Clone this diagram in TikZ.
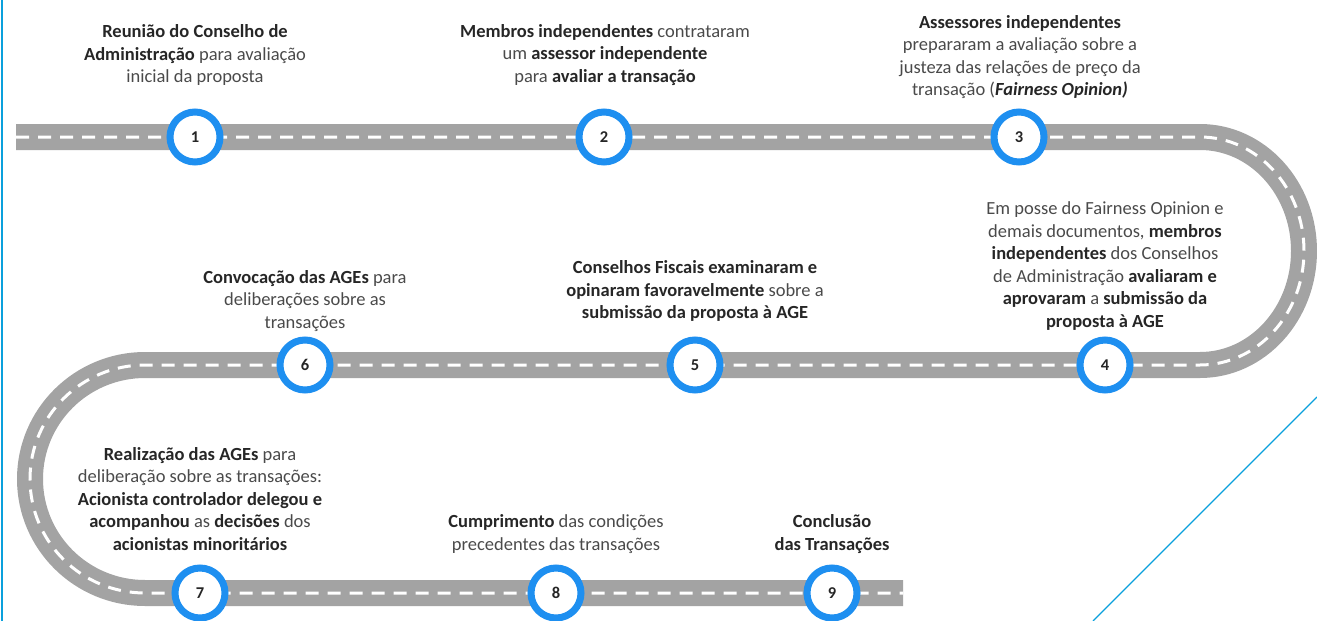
\documentclass[tikz,border=0pt]{standalone}
\usepackage{fontspec}
\setmainfont{Carlito}
\usetikzlibrary{positioning}
\definecolor{roadgray}{HTML}{A3A3A3}
\definecolor{ringblue}{HTML}{1E8FF0}
\definecolor{lineblue}{HTML}{0AA0DC}
\definecolor{txtdark}{HTML}{262626}
\definecolor{txtgray}{HTML}{4A4A4A}
\newcommand{\hl}[1]{\textbf{\color{txtdark}#1}}

\begin{document}
\begin{tikzpicture}[x=1pt,y=-1pt,
  stop/.style={circle,draw=ringblue,line width=7pt,fill=white,
    minimum size=50pt,inner sep=0pt,text=txtdark,
    font=\fontsize{16.5}{18}\selectfont\bfseries},
  txt/.style={align=center,text=txtgray,inner sep=0pt,
    font=\fontsize{18.5}{22.5}\selectfont},
  road/.style={line width=26pt,draw=roadgray},
  lane/.style={draw=white,line width=3pt,dash pattern=on 13pt off 9pt}]
 \useasboundingbox (0,0) rectangle (1317,621);

 % road
 \draw[road,postaction={lane}] (16,137) -- (1200,137)
   arc[start angle=-90,end angle=90,x radius=104,y radius=114] -- (145,365)
   arc[start angle=-90,end angle=-270,x radius=115,y radius=114] -- (903,593);

 % frame lines
 \draw[lineblue,line width=2pt] (1.5,0) -- (1.5,621);
 \draw[lineblue,line width=1.3pt] (1317,397) -- (1093,621);

 % stops
 \node[stop] (c1) at (195,137) {1};
 \node[stop] (c2) at (604,137) {2};
 \node[stop] (c3) at (1019,137) {3};
 \node[stop] (c4) at (1105,365) {4};
 \node[stop] (c5) at (695,365) {5};
 \node[stop] (c6) at (305,365) {6};
 \node[stop] (c7) at (200,593) {7};
 \node[stop] (c8) at (556,593) {8};
 \node[stop] (c9) at (832,593) {9};

 % labels
 \node[txt] (t1) at (195,55) {\hl{Reunião do Conselho de}\\
   \hl{Administração} para avaliação\\inicial da proposta};
 \node[txt] (t2) at (605,55) {\hl{Membros independentes} contrataram\\
   um \hl{assessor independente}\\para \hl{avaliar a transação}};
 \node[txt] (t3) at (1020,57) {\hl{Assessores independentes}\\
   prepararam a avaliação sobre a\\justeza das relações de preço da\\
   transação (\hl{\itshape Fairness Opinion)}};
 \node[txt] (t4) at (1105,266) {Em posse do Fairness Opinion e\\
   demais documentos, \hl{membros}\\\hl{independentes} dos Conselhos\\
   de Administração \hl{avaliaram e}\\\hl{aprovaram} a \hl{submissão da}\\
   \hl{proposta à AGE}};
 \node[txt] (t5) at (695,291) {\hl{Conselhos Fiscais examinaram e}\\
   \hl{opinaram favoravelmente} sobre a\\\hl{submissão da proposta à AGE}};
 \node[txt] (t6) at (305,301) {\hl{Convocação das AGEs} para\\
   deliberações sobre as\\transações};
 \node[txt] (t7) at (200,499) {\hl{Realização das AGEs} para\\
   deliberação sobre as transações:\\\hl{Acionista controlador delegou e}\\
   \hl{acompanhou} as \hl{decisões} dos\\\hl{acionistas minoritários}};
 \node[txt] (t8) at (556,534) {\hl{Cumprimento} das condições\\
   precedentes das transações};
 \node[txt] (t9) at (832,534) {\hl{Conclusão}\\\hl{das Transações}};
\end{tikzpicture}
\end{document}
